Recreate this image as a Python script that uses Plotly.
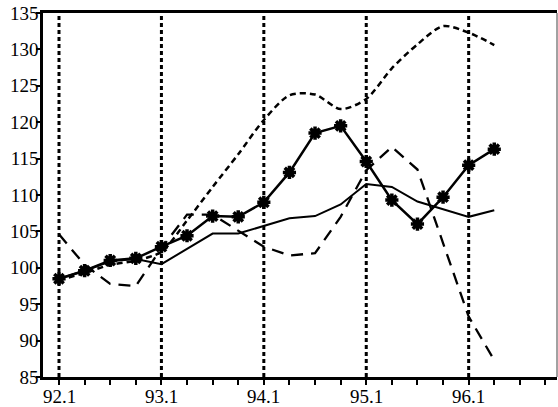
import plotly.graph_objects as go

quarters = ["92.1", "92.2", "92.3", "92.4", "93.1", "93.2", "93.3", "93.4",
            "94.1", "94.2", "94.3", "94.4", "95.1", "95.2", "95.3", "95.4",
            "96.1", "96.2"]
year_labels = ["92.1", "93.1", "94.1", "95.1", "96.1"]
y_ticks = [85, 90, 95, 100, 105, 110, 115, 120, 125, 130, 135]

series_star = [98.5, 99.6, 101.0, 101.3, 102.9, 104.4, 107.1, 107.0, 109.0,
               113.1, 118.5, 119.5, 114.6, 109.3, 106.0, 109.7, 114.1, 116.3]
series_solid = [98.5, 99.6, 100.9, 101.2, 100.5, 102.6, 104.7, 104.7, 105.8,
                106.8, 107.1, 108.7, 111.5, 111.1, 109.1, 108.0, 107.0, 107.9]
series_longdash = [104.6, 100.4, 97.8, 97.5, 102.7, 107.3, 107.3, 105.1, 102.9,
                   101.7, 102.0, 107.0, 113.4, 116.6, 113.5, 103.4, 93.3, 87.3]
series_dotted = [98.3, 99.3, 100.4, 101.0, 102.2, 106.5, 111.1, 115.6, 120.3,
                 123.7, 123.8, 121.8, 123.2, 127.4, 130.7, 133.2, 132.3, 130.6]

FONT = "Liberation Serif"

x = list(range(len(quarters)))
n_ticks = 20  # quarterly tick marks along the axis
tick_vals = list(range(n_ticks))
year_pos = [quarters.index(lbl) for lbl in year_labels]

fig = go.Figure()

fig.add_trace(go.Scatter(x=x, y=series_dotted, mode="lines",
                         line=dict(color="black", width=2.5, dash="6px,4px",
                                   shape="spline", smoothing=0.8)))
fig.add_trace(go.Scatter(x=x, y=series_longdash, mode="lines",
                         line=dict(color="black", width=2.3, dash="12px,8px")))
fig.add_trace(go.Scatter(x=x, y=series_solid, mode="lines",
                         line=dict(color="black", width=2)))
fig.add_trace(go.Scatter(x=x, y=series_star, mode="lines+markers",
                         line=dict(color="black", width=2.5),
                         marker=dict(symbol="asterisk-open", size=11,
                                     color="black",
                                     line=dict(color="black", width=3.5))))

for p in year_pos:
    fig.add_shape(type="line", xref="x", yref="paper", x0=p, x1=p, y0=0, y1=1,
                  line=dict(color="black", width=3, dash="4px,3px"),
                  layer="below")

# thin right border
fig.add_shape(type="line", xref="paper", yref="paper", x0=1, x1=1, y0=0, y1=1,
              line=dict(color="#444", width=1))

for lbl, p in zip(year_labels, year_pos):
    fig.add_annotation(x=p, xref="x", y=0, yref="paper", text=lbl,
                       showarrow=False, yanchor="top", xanchor="center",
                       yshift=-7, font=dict(family=FONT, size=19, color="black"))

fig.update_layout(
    width=558, height=407,
    margin=dict(l=43, r=1, t=13, b=30),
    paper_bgcolor="white", plot_bgcolor="white",
    showlegend=False,
    font=dict(family=FONT, size=19, color="black"),
)
fig.update_xaxes(range=[-0.625, 19.45], tickvals=tick_vals, showticklabels=False,
                 ticks="outside", ticklen=5, tickwidth=1.5, tickcolor="black",
                 automargin=False,
                 showline=True, linecolor="black", linewidth=2.5, mirror=True,
                 showgrid=False, zeroline=False)
fig.update_yaxes(range=[85, 135], tickvals=y_ticks, automargin=False,
                 tickfont=dict(family=FONT, size=19, color="black"),
                 ticklabelstandoff=-6,
                 ticks="outside", ticklen=4, tickwidth=1.5, tickcolor="black",
                 showline=True, linecolor="black", linewidth=2.5,
                 showgrid=False, zeroline=False)

fig.write_html("out.html", config={"displayModeBar": False},
               post_script="document.body.style.margin='0';document.body.style.overflow='hidden';")
